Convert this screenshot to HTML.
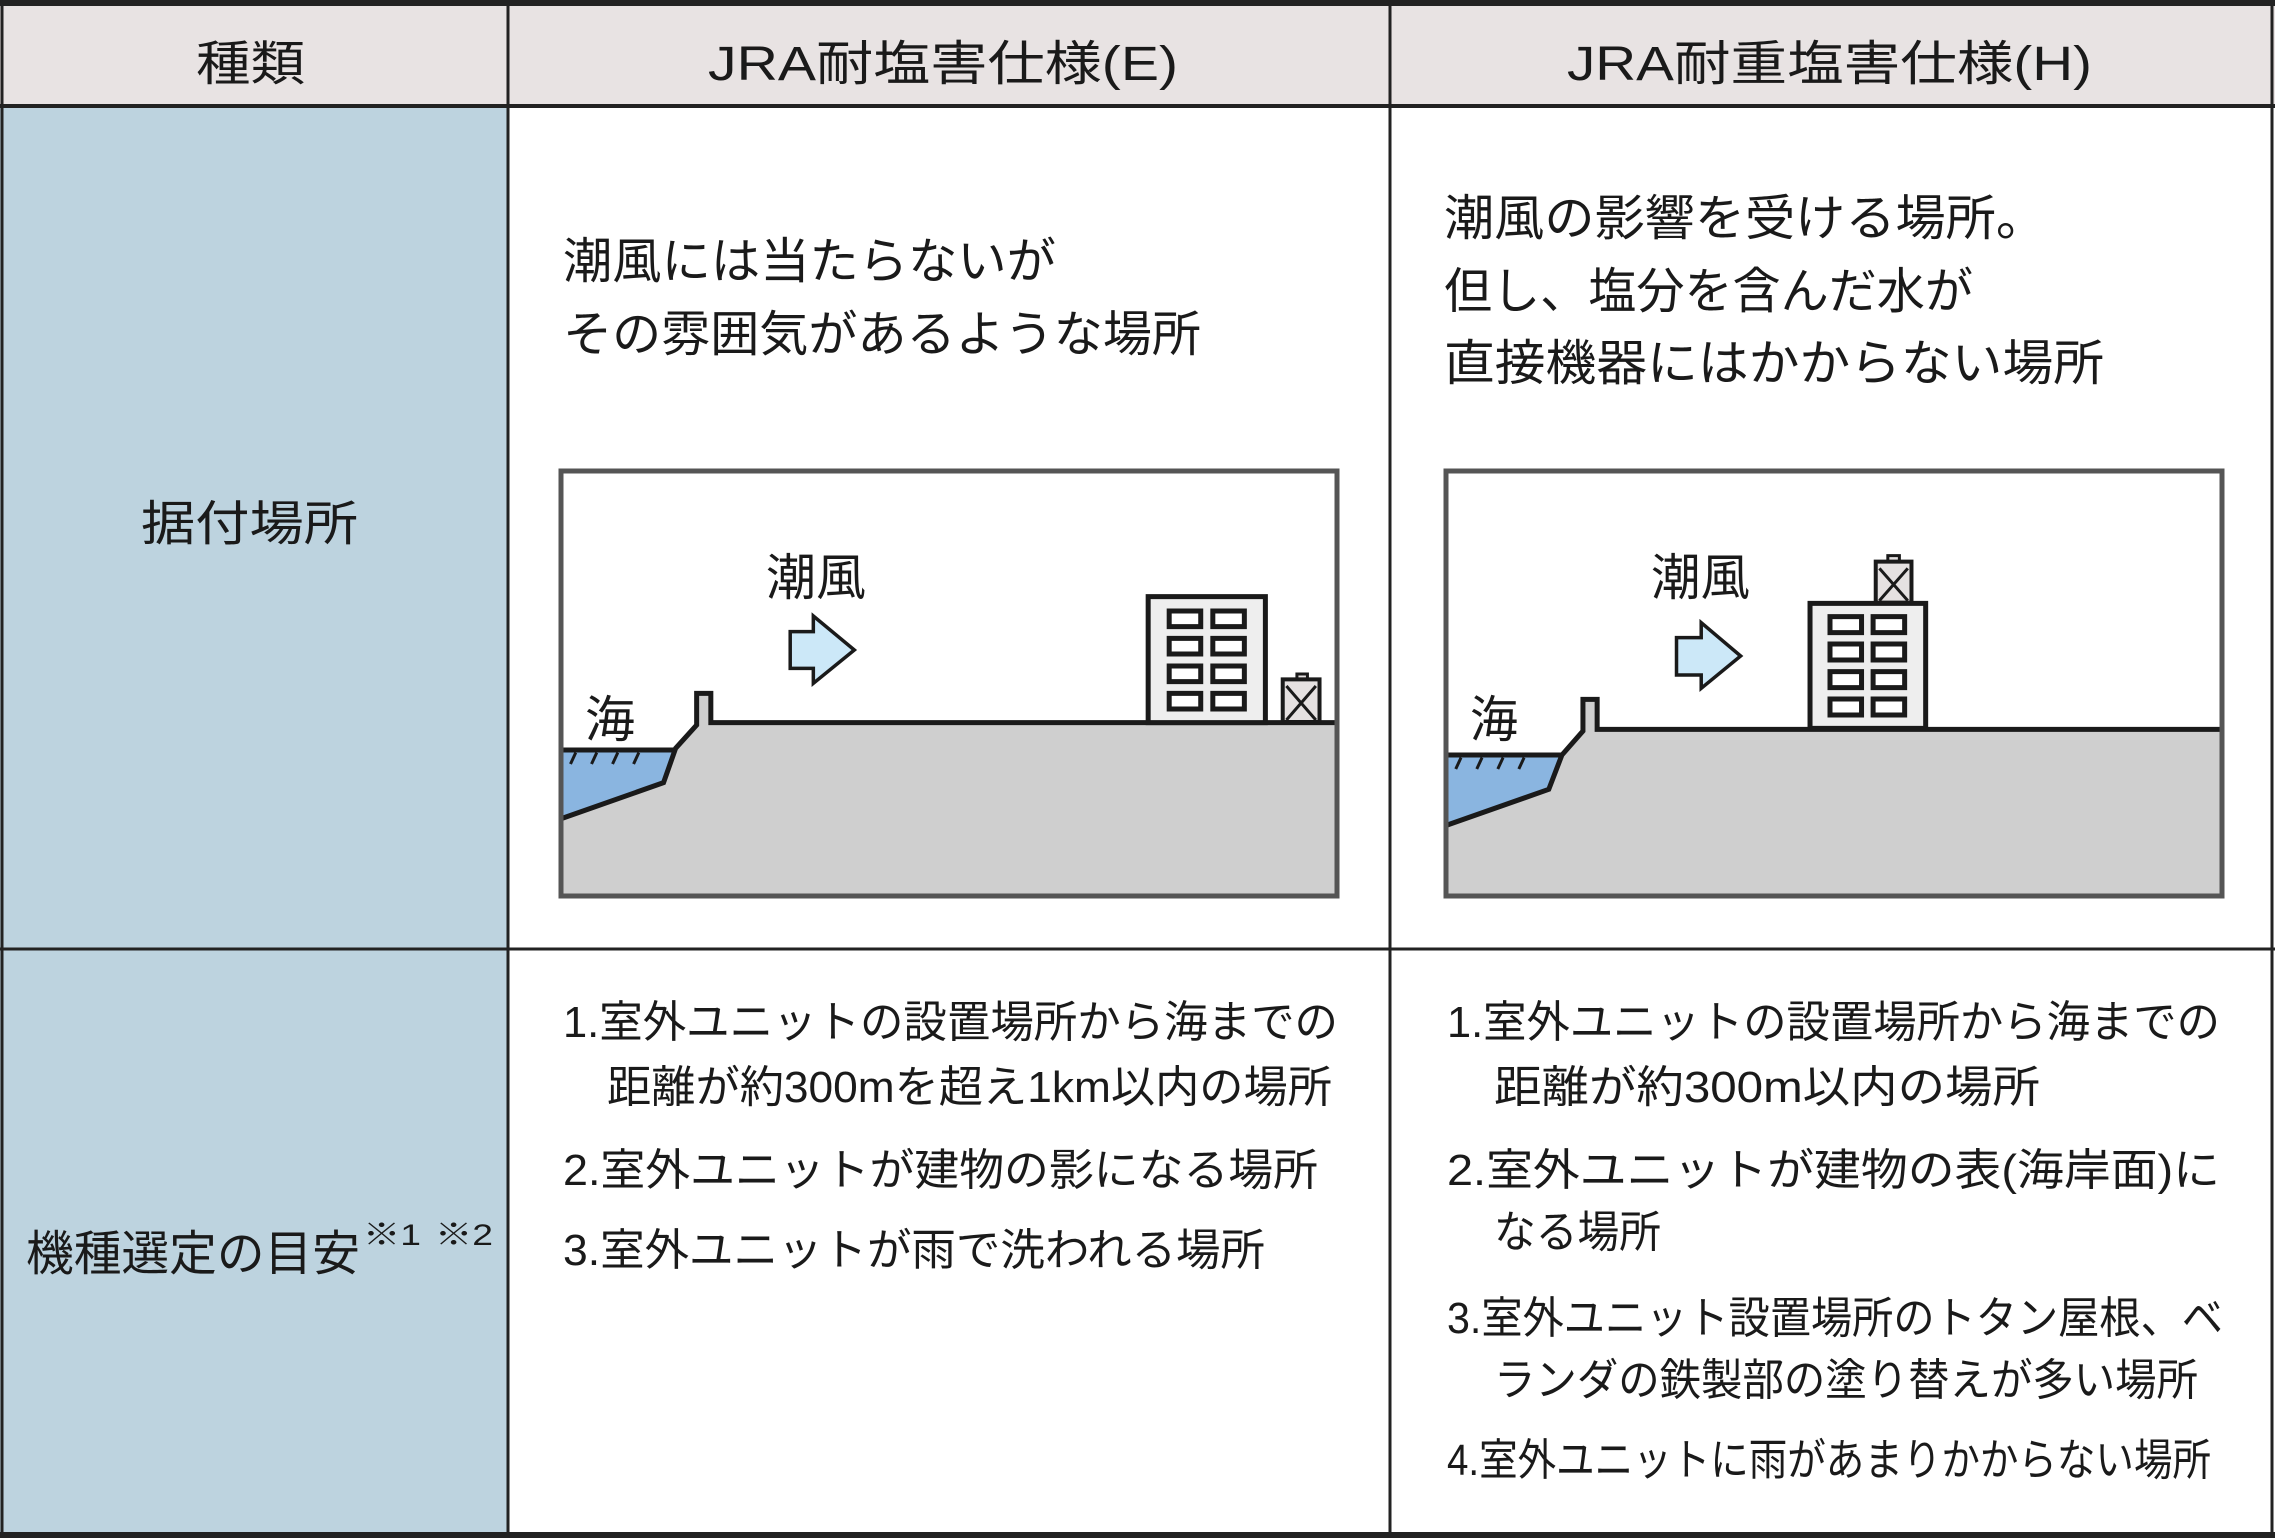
<!DOCTYPE html>
<html><head><meta charset="utf-8"><style>
html,body{margin:0;padding:0;background:#fff;}
svg{display:block;}
text{font-family:"Liberation Sans","Noto Sans CJK JP",sans-serif;fill:#1a1a1a;}
</style></head><body>
<svg width="2275" height="1538" viewBox="0 0 2275 1538" xmlns="http://www.w3.org/2000/svg">
<rect x="0" y="0" width="2275" height="1538" fill="#fff"/>
<rect x="0" y="3" width="2275" height="103" fill="#e8e3e3"/>
<rect x="0" y="106" width="508" height="1430" fill="#bdd3df"/>
<g stroke="#222" fill="none">
<line x1="0" y1="3" x2="2275" y2="3" stroke-width="6"/>
<line x1="0" y1="106" x2="2275" y2="106" stroke-width="4"/>
<line x1="0" y1="949" x2="2275" y2="949" stroke-width="3"/>
<line x1="0" y1="1535" x2="2275" y2="1535" stroke-width="6"/>
<line x1="2" y1="0" x2="2" y2="1538" stroke-width="3"/>
<line x1="508" y1="0" x2="508" y2="1538" stroke-width="3"/>
<line x1="1390" y1="0" x2="1390" y2="1538" stroke-width="3"/>
<line x1="2272" y1="0" x2="2272" y2="1538" stroke-width="3"/>
</g>
<g font-size="48">
<text x="196" y="80" textLength="109" lengthAdjust="spacingAndGlyphs">種類</text>
<text x="708" y="80" textLength="470" lengthAdjust="spacingAndGlyphs">JRA耐塩害仕様(E)</text>
<text x="1567" y="80" textLength="525" lengthAdjust="spacingAndGlyphs">JRA耐重塩害仕様(H)</text>
<text x="141" y="540" textLength="217" lengthAdjust="spacingAndGlyphs">据付場所</text>
<text x="26" y="1270" textLength="334" lengthAdjust="spacingAndGlyphs">機種選定の目安</text>
</g>
<g font-size="30">
<text x="363" y="1245" textLength="58" lengthAdjust="spacingAndGlyphs">※1</text>
<text x="435" y="1245" textLength="58" lengthAdjust="spacingAndGlyphs">※2</text>
</g>
<g font-size="49">
<text x="563" y="278" textLength="493" lengthAdjust="spacingAndGlyphs">潮風には当たらないが</text>
<text x="563" y="351" textLength="638" lengthAdjust="spacingAndGlyphs">その雰囲気があるような場所</text>
<text x="1444" y="235" textLength="602" lengthAdjust="spacingAndGlyphs">潮風の影響を受ける場所。</text>
<text x="1444" y="308" textLength="529" lengthAdjust="spacingAndGlyphs">但し、塩分を含んだ水が</text>
<text x="1444" y="380" textLength="660" lengthAdjust="spacingAndGlyphs">直接機器にはかからない場所</text>
</g>
<g font-size="44">
<text x="563" y="1037" textLength="775" lengthAdjust="spacingAndGlyphs">1.室外ユニットの設置場所から海までの</text>
<text x="607" y="1102" textLength="725" lengthAdjust="spacingAndGlyphs">距離が約300mを超え1km以内の場所</text>
<text x="563" y="1185" textLength="755" lengthAdjust="spacingAndGlyphs">2.室外ユニットが建物の影になる場所</text>
<text x="563" y="1265" textLength="702" lengthAdjust="spacingAndGlyphs">3.室外ユニットが雨で洗われる場所</text>
<text x="1447" y="1037" textLength="773" lengthAdjust="spacingAndGlyphs">1.室外ユニットの設置場所から海までの</text>
<text x="1494" y="1102" textLength="546" lengthAdjust="spacingAndGlyphs">距離が約300m以内の場所</text>
<text x="1447" y="1185" textLength="773" lengthAdjust="spacingAndGlyphs">2.室外ユニットが建物の表(海岸面)に</text>
<text x="1494" y="1247" textLength="167" lengthAdjust="spacingAndGlyphs">なる場所</text>
<text x="1447" y="1333" textLength="776" lengthAdjust="spacingAndGlyphs">3.室外ユニット設置場所のトタン屋根、ベ</text>
<text x="1494" y="1395" textLength="704" lengthAdjust="spacingAndGlyphs">ランダの鉄製部の塗り替えが多い場所</text>
<text x="1447" y="1475" textLength="764" lengthAdjust="spacingAndGlyphs">4.室外ユニットに雨があまりかからない場所</text>
</g>

<!-- Diagram E -->
<svg x="540" y="450" width="820" height="480" viewBox="0 0 1560 1440" preserveAspectRatio="none">
<polygon points="42,1105 235,998 258,895 298,825 298,730 325,730 325,818 1520,818 1520,1337 42,1337" fill="#cfcfcf"/>
<polygon points="42,900 258,900 235,998 42,1105" fill="#8ab5e0"/>
<polyline points="42,1105 235,998 258,895 298,825 298,730 325,730 325,818 1520,818" fill="none" stroke="#1a1a1a" stroke-width="5" vector-effect="non-scaling-stroke"/>
<line x1="42" y1="900" x2="258" y2="900" stroke="#1a1a1a" stroke-width="5" vector-effect="non-scaling-stroke"/>
<g stroke="#1a1a1a" stroke-width="3">
<line x1="68" y1="908" x2="58" y2="942" vector-effect="non-scaling-stroke"/>
<line x1="108" y1="908" x2="98" y2="942" vector-effect="non-scaling-stroke"/>
<line x1="148" y1="908" x2="138" y2="942" vector-effect="non-scaling-stroke"/>
<line x1="188" y1="908" x2="178" y2="942" vector-effect="non-scaling-stroke"/>
</g>
<polygon points="476,545 520,545 520,498 598,600 520,700 520,655 476,655" fill="#cce8f8" stroke="#1a1a1a" stroke-width="3.5" vector-effect="non-scaling-stroke"/>
<rect x="1157" y="440" width="223" height="378" fill="#eee" stroke="#1a1a1a" stroke-width="5" vector-effect="non-scaling-stroke"/>
<g fill="#fff" stroke="#1a1a1a" stroke-width="5">
<rect x="1197" y="483" width="60" height="47" vector-effect="non-scaling-stroke"/><rect x="1280" y="483" width="60" height="47" vector-effect="non-scaling-stroke"/>
<rect x="1197" y="565" width="60" height="47" vector-effect="non-scaling-stroke"/><rect x="1280" y="565" width="60" height="47" vector-effect="non-scaling-stroke"/>
<rect x="1197" y="648" width="60" height="47" vector-effect="non-scaling-stroke"/><rect x="1280" y="648" width="60" height="47" vector-effect="non-scaling-stroke"/>
<rect x="1197" y="730" width="60" height="47" vector-effect="non-scaling-stroke"/><rect x="1280" y="730" width="60" height="47" vector-effect="non-scaling-stroke"/>
</g>
<rect x="1440" y="672" width="20" height="16" fill="#e5e1e1" stroke="#1a1a1a" stroke-width="3" vector-effect="non-scaling-stroke"/>
<rect x="1413" y="688" width="70" height="128" fill="#e5e1e1" stroke="#1a1a1a" stroke-width="4" vector-effect="non-scaling-stroke"/>
<path d="M1420,708 L1476,810 M1476,708 L1420,810" stroke="#1a1a1a" stroke-width="3" vector-effect="non-scaling-stroke"/>
</svg>
<rect x="561" y="471" width="776" height="425" fill="none" stroke="#555" stroke-width="5"/>
<text x="766" y="595" font-size="50" textLength="100" lengthAdjust="spacingAndGlyphs">潮風</text>
<text x="585" y="737" font-size="50" textLength="50" lengthAdjust="spacingAndGlyphs">海</text>

<!-- Diagram H -->
<svg x="1420" y="450" width="820" height="480" viewBox="0 0 1560 1440" preserveAspectRatio="none">
<polygon points="52,1125 245,1018 270,915 310,843 310,748 337,748 337,838 1530,838 1530,1337 52,1337" fill="#cfcfcf"/>
<polygon points="52,915 270,915 245,1018 52,1125" fill="#8ab5e0"/>
<polyline points="52,1125 245,1018 270,915 310,843 310,748 337,748 337,838 1530,838" fill="none" stroke="#1a1a1a" stroke-width="5" vector-effect="non-scaling-stroke"/>
<line x1="52" y1="915" x2="270" y2="915" stroke="#1a1a1a" stroke-width="5" vector-effect="non-scaling-stroke"/>
<g stroke="#1a1a1a" stroke-width="3">
<line x1="78" y1="923" x2="68" y2="957" vector-effect="non-scaling-stroke"/>
<line x1="118" y1="923" x2="108" y2="957" vector-effect="non-scaling-stroke"/>
<line x1="158" y1="923" x2="148" y2="957" vector-effect="non-scaling-stroke"/>
<line x1="198" y1="923" x2="188" y2="957" vector-effect="non-scaling-stroke"/>
</g>
<polygon points="488,563 535,563 535,518 610,618 535,715 535,675 488,675" fill="#cce8f8" stroke="#1a1a1a" stroke-width="3.5" vector-effect="non-scaling-stroke"/>
<rect x="742" y="460" width="220" height="375" fill="#eee" stroke="#1a1a1a" stroke-width="5" vector-effect="non-scaling-stroke"/>
<g fill="#fff" stroke="#1a1a1a" stroke-width="5">
<rect x="780" y="500" width="60" height="48" vector-effect="non-scaling-stroke"/><rect x="862" y="500" width="60" height="48" vector-effect="non-scaling-stroke"/>
<rect x="780" y="582" width="60" height="48" vector-effect="non-scaling-stroke"/><rect x="862" y="582" width="60" height="48" vector-effect="non-scaling-stroke"/>
<rect x="780" y="665" width="60" height="48" vector-effect="non-scaling-stroke"/><rect x="862" y="665" width="60" height="48" vector-effect="non-scaling-stroke"/>
<rect x="780" y="747" width="60" height="48" vector-effect="non-scaling-stroke"/><rect x="862" y="747" width="60" height="48" vector-effect="non-scaling-stroke"/>
</g>
<rect x="890" y="317" width="22" height="18" fill="#e5e1e1" stroke="#1a1a1a" stroke-width="3" vector-effect="non-scaling-stroke"/>
<rect x="867" y="335" width="68" height="123" fill="#e5e1e1" stroke="#1a1a1a" stroke-width="4" vector-effect="non-scaling-stroke"/>
<path d="M874,355 L928,452 M928,355 L874,452" stroke="#1a1a1a" stroke-width="3" vector-effect="non-scaling-stroke"/>
</svg>
<rect x="1446" y="471" width="776" height="425" fill="none" stroke="#555" stroke-width="5"/>
<text x="1651" y="595" font-size="50" textLength="99" lengthAdjust="spacingAndGlyphs">潮風</text>
<text x="1470" y="737" font-size="50" textLength="48" lengthAdjust="spacingAndGlyphs">海</text>
</svg>
</body></html>
